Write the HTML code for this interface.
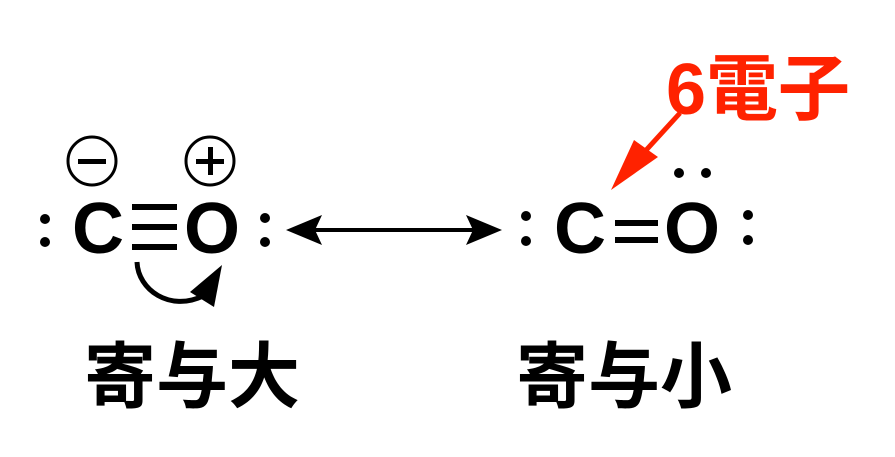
<!DOCTYPE html>
<html><head><meta charset="utf-8"><style>
html,body{margin:0;padding:0;background:#fff;}
svg{display:block}
</style></head><body>
<svg width="895" height="457" viewBox="0 0 895 457" xmlns="http://www.w3.org/2000/svg">
<g font-family="Liberation Sans, sans-serif" font-weight="bold" font-size="72" fill="#000">
<text x="72" y="253">C</text>
<text x="184" y="253">O</text>
<text x="554" y="253">C</text>
<text x="664" y="253">O</text>
</g>
<g fill="#000">
<rect x="132" y="204" width="45" height="6"/>
<rect x="132" y="224" width="45" height="6"/>
<rect x="132" y="244" width="45" height="6"/>
<rect x="615" y="220" width="43" height="6"/>
<rect x="615" y="237" width="43" height="6"/>
<circle cx="45" cy="219" r="5"/><circle cx="45" cy="242" r="5"/>
<circle cx="265" cy="218" r="5"/><circle cx="265" cy="242" r="5"/>
<circle cx="526" cy="216" r="5"/><circle cx="526" cy="241" r="5"/>
<circle cx="748" cy="215" r="5"/><circle cx="748" cy="240" r="5"/>
<circle cx="679" cy="173" r="5"/><circle cx="706" cy="173" r="5"/>
</g>
<circle cx="92" cy="161" r="24" fill="none" stroke="#000" stroke-width="3"/>
<rect x="78" y="159" width="28" height="5" fill="#000"/>
<circle cx="210" cy="161" r="24" fill="none" stroke="#000" stroke-width="3"/>
<rect x="196" y="159" width="28" height="5" fill="#000"/>
<rect x="208" y="147" width="5" height="28" fill="#000"/>
<path d="M137,262 C138,290 170,312 203,296" fill="none" stroke="#000" stroke-width="5"/>
<path d="M222,265 L190,292 L214,307 Z" fill="#000"/>
<line x1="310" y1="230" x2="478" y2="230" stroke="#000" stroke-width="4"/>
<path d="M286,230 L322,215 L315,230 L322,245 Z" fill="#000"/>
<path d="M502,230 L466,215 L473,230 L466,245 Z" fill="#000"/>
<text x="666" y="114" font-family="Liberation Sans, 'Noto Sans CJK JP', sans-serif" font-weight="bold" font-size="72" textLength="184" lengthAdjust="spacingAndGlyphs" fill="#ff2200">6電子</text>
<line x1="680" y1="113" x2="628" y2="170" stroke="#ff2200" stroke-width="5"/>
<path d="M611,190 L634,140 L658,157 Z" fill="#ff2200"/>
<g font-family="'Noto Sans CJK JP', sans-serif" font-weight="bold" font-size="72" fill="#000">
<text x="84" y="402">寄与大</text>
<text x="516" y="402">寄与小</text>
</g>
</svg>
</body></html>
